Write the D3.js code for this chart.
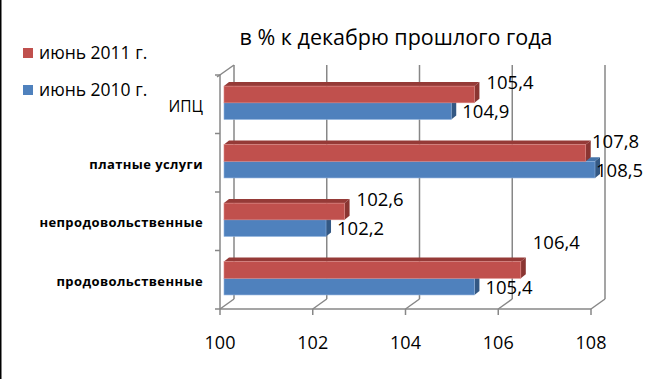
<!DOCTYPE html>
<html>
<head>
<meta charset="utf-8">
<script src="https://cdn.jsdelivr.net/npm/d3@7"></script>
<style>
  html, body { margin: 0; padding: 0; background: #fff; }
  svg { display: block; font-family: "Open Sans", sans-serif; }
</style>
</head>
<body>
<div id="chart"></div>
<script>
const categories = ['ИПЦ', 'платные услуги', 'непродовольственные', 'продовольственные']
const june2011 = [105.4, 107.8, 102.6, 106.4]
const june2010 = [104.9, 108.5, 102.2, 105.4]
const xTicks = [100, 102, 104, 106, 108]
const seriesNames = ['июнь 2011 г.', 'июнь 2010 г.']

const width = 649
const height = 379
const depth = { dx: 14, dy: -10 }      // floor / wall depth
const barShift = { dx: 4, dy: -3 }     // bars sit a bit behind the front plane
const barDepth = { dx: 5, dy: -4 }     // visible thickness of a bar
const grid = '#878787'

const x = d3.scaleLinear().domain([100, 108]).range([220, 591])
const y = d3.scaleBand().domain(categories).range([75, 309])

const colors = {
  red: { front: '#c0504d', top: '#953a37', side: '#8a3532', edge: '#d9827f' },
  blue: { front: '#4f81bd', top: '#4674aa', side: '#335884', edge: '#8fb1dc' }
}

const svg = d3.select('#chart').append('svg')
  .attr('width', width)
  .attr('height', height)

// left border of the picture
svg.append('line')
  .attr('x1', 0.75).attr('x2', 0.75).attr('y1', 0).attr('y2', height)
  .attr('stroke', '#000').attr('stroke-width', 1.5)

// back wall gridlines
const [yTop, yBottom] = y.range()
svg.append('g').selectAll('line')
  .data(xTicks).enter()
  .append('line')
  .attr('x1', d => x(d) + depth.dx).attr('x2', d => x(d) + depth.dx)
  .attr('y1', yTop + depth.dy).attr('y2', yBottom + depth.dy)
  .attr('stroke', grid).attr('stroke-width', 1.5)

// floor: front edge, depth lines, ticks
const floor = svg.append('g').attr('stroke', grid).attr('stroke-width', 1.5).attr('fill', 'none')
floor.append('line')
  .attr('x1', x(100)).attr('x2', x(108)).attr('y1', yBottom).attr('y2', yBottom)
floor.selectAll('.depth')
  .data(xTicks).enter()
  .append('line')
  .attr('x1', d => x(d)).attr('y1', yBottom)
  .attr('x2', d => x(d) + depth.dx).attr('y2', yBottom + depth.dy)
floor.selectAll('.tick')
  .data(xTicks).enter()
  .append('line')
  .attr('x1', d => x(d)).attr('x2', d => x(d))
  .attr('y1', yBottom).attr('y2', yBottom + 6)

// left wall: axis line, top edge, category ticks
floor.append('line')
  .attr('x1', x(100)).attr('x2', x(100)).attr('y1', yTop).attr('y2', yBottom)
floor.append('line')
  .attr('x1', x(100) - 3).attr('y1', yTop + 2)
  .attr('x2', x(100) + depth.dx).attr('y2', yTop + depth.dy)
const bandEdges = categories.map(c => y(c)).concat([yBottom])
floor.selectAll('.ctick')
  .data(bandEdges).enter()
  .append('line')
  .attr('x1', x(100) - 5).attr('x2', x(100))
  .attr('y1', d => d).attr('y2', d => d)

// x tick labels
svg.append('g').selectAll('text')
  .data(xTicks).enter()
  .append('text')
  .attr('x', d => x(d))
  .attr('y', yBottom + 40)
  .attr('text-anchor', 'middle')
  .attr('font-size', 18)
  .attr('fill', '#000')
  .text(d => d)

// category labels
svg.append('g').selectAll('text')
  .data(categories).enter()
  .append('text')
  .attr('x', 203)
  .attr('y', d => y(d) + y.bandwidth() / 2 + (d === 'ИПЦ' ? 8 : 6))
  .attr('text-anchor', 'end')
  .attr('font-size', d => d === 'ИПЦ' ? 15.5 : 13)
  .attr('font-weight', d => d === 'ИПЦ' ? 400 : 700)
  .attr('letter-spacing', d => d === 'ИПЦ' ? 0 : 0.4)
  .attr('fill', '#000')
  .text(d => d)

// bars
const bw = y.bandwidth()
const redTop = 0.19 * bw
const barH = 0.285 * bw
const xEnd = v => x(Math.min(v, x.domain()[1]))

function drawBar (g, cat, v, yFront, c) {
  const x0 = x(100) + barShift.dx
  const x1 = xEnd(v) + barShift.dx
  const y0 = y(cat) + yFront
  const y1 = y0 + barH
  // top face
  g.append('path')
    .attr('d', `M${x0},${y0}L${x0 + barDepth.dx},${y0 + barDepth.dy}L${x1 + barDepth.dx},${y0 + barDepth.dy}L${x1},${y0}Z`)
    .attr('fill', c.top)
  // side face
  g.append('path')
    .attr('d', `M${x1},${y0}L${x1 + barDepth.dx},${y0 + barDepth.dy}L${x1 + barDepth.dx},${y1 + barDepth.dy}L${x1},${y1}Z`)
    .attr('fill', c.side)
  // front face
  g.append('rect')
    .attr('x', x0).attr('y', y0)
    .attr('width', x1 - x0).attr('height', barH)
    .attr('fill', c.front)
    .attr('stroke', c.edge).attr('stroke-width', 0.6)
}

const bars = svg.append('g')
categories.forEach((cat, i) => {
  drawBar(bars, cat, june2010[i], redTop + barH, colors.blue)
  drawBar(bars, cat, june2011[i], redTop, colors.red)
})

// value labels
const fmt = v => String(v).replace('.', ',')
const labelNudge = { 'продовольственные': -16 }
const labels = svg.append('g').attr('font-size', 18.5).attr('fill', '#000')
categories.forEach((cat, i) => {
  const yr = y(cat) + redTop
  labels.append('text')
    .attr('x', Math.min(xEnd(june2011[i]) + barShift.dx + 12, 592))
    .attr('y', yr + 3 + (labelNudge[cat] || 0))
    .text(fmt(june2011[i]))
  labels.append('text')
    .attr('x', Math.min(xEnd(june2010[i]) + barShift.dx + 11, 596))
    .attr('y', yr + 2 * barH - 1)
    .text(fmt(june2010[i]))
})

// title
svg.append('text')
  .attr('x', 396).attr('y', 45)
  .attr('text-anchor', 'middle')
  .attr('font-size', 21.5)
  .attr('fill', '#000')
  .text('в % к декабрю прошлого года')

// legend
const legend = svg.append('g')
const legendColors = [colors.red.front, colors.blue.front]
seriesNames.forEach((name, i) => {
  legend.append('rect')
    .attr('x', 23).attr('y', 48 + i * 37)
    .attr('width', 10).attr('height', 10)
    .attr('fill', legendColors[i])
  legend.append('text')
    .attr('x', 39).attr('y', 59 + i * 37)
    .attr('font-size', 17.5)
    .attr('fill', '#000')
    .text(name)
})
</script>
</body>
</html>
